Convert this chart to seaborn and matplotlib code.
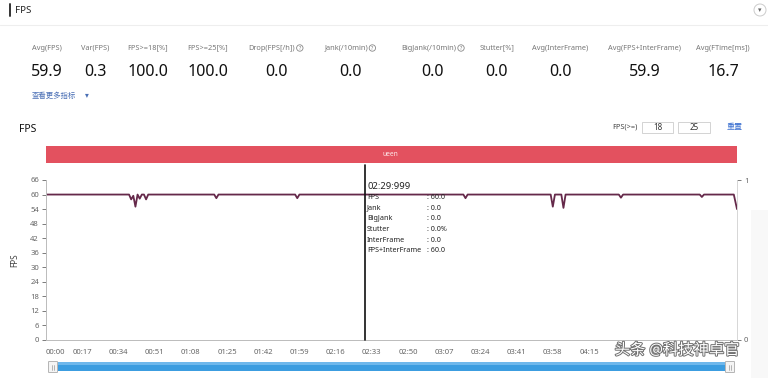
import matplotlib
matplotlib.use("Agg")
import matplotlib.pyplot as plt
import seaborn as sns
import pandas as pd
from matplotlib.patches import Rectangle, FancyBboxPatch, Circle
import matplotlib.patheffects as pe

# ---------------- data ----------------
stat_labels = ["Avg(FPS)", "Var(FPS)", "FPS>=18[%]", "FPS>=25[%]", "Drop(FPS[/h])",
               "Jank(/10min)", "BigJank(/10min)", "Stutter[%]", "Avg(InterFrame)",
               "Avg(FPS+InterFrame)", "Avg(FTime[ms])"]
stat_values = ["59.9", "0.3", "100.0", "100.0", "0.0", "0.0", "0.0", "0.0", "0.0", "59.9", "16.7"]
stat_help = [False, False, False, False, True, True, True, False, False, False, False]

time_s = [0, 39, 40, 41, 42, 43, 44, 45, 46, 47, 48, 79, 80, 81, 117, 118, 119,
          196, 197, 198, 237, 238, 239, 242, 243, 244, 269, 270, 271, 307, 308, 309,
          323, 324.5]
fps = [60, 60, 58, 59.5, 55, 60, 58.3, 60, 60, 58, 60, 60, 58.5, 60, 60, 58.5, 60,
       60, 58.5, 60, 60, 55, 60, 60, 54.5, 60, 60, 58.7, 60, 60, 59, 60,
       60, 54]

y_ticks = [0, 6, 12, 18, 24, 30, 36, 42, 48, 54, 60, 66]
x_tick_s = [0, 17, 34, 51, 68, 85, 102, 119, 136, 153, 170, 187, 204, 221, 238, 255, 272, 289, 306]
# the last three labels are hidden under the watermark in the reference
x_tick_labels = ["00:00", "00:17", "00:34", "00:51", "01:08", "01:25", "01:42", "01:59",
                 "02:16", "02:33", "02:50", "03:07", "03:24", "03:41", "03:58", "04:15",
                 "", "", ""]

cursor_s = 150
tooltip_title = "02:29:999"
tooltip_rows = [("FPS", "60.0"), ("Jank", "0.0"), ("BigJank", "0.0"),
                ("Stutter", "0.0%"), ("InterFrame", "0.0"), ("FPS+InterFrame", "60.0")]
fps_thresholds = ["18", "25"]
scene_label = "ueen"

# ---------------- style ----------------
sns.set_theme(style="white")
plt.rcParams['font.family'] = ['Noto Sans', 'Noto Sans CJK SC', 'DejaVu Sans']

W, H = 768, 378
fig = plt.figure(figsize=(W / 100, H / 100), dpi=100)
fig.patch.set_facecolor("white")

def fx(px):
    return px / W

def fy(py):
    return 1 - py / H

# main chart axes (pixel box 46..737 x 180..340)
ax_l, ax_r, ax_t, ax_b = 46, 737, 180, 340
ax = fig.add_axes([fx(ax_l), fy(ax_b), (ax_r - ax_l) / W, (ax_b - ax_t) / H])
df = pd.DataFrame({"t": time_s, "fps": fps})
line_color = "#65294a"
sns.lineplot(data=df, x="t", y="fps", ax=ax, color=line_color, linewidth=1.3)
ax.set_xlim(0, 324.5)
ax.set_ylim(0, 66)
ax.set_yticks(y_ticks)
ax.set_yticklabels([str(v) for v in y_ticks])
ax.set_xticks(x_tick_s)
ax.set_xticklabels(x_tick_labels)
ax.get_xticklabels()[0].set_horizontalalignment("left")
ax.set_xlabel("")
ax.set_ylabel("FPS", fontsize=6, color="#444444", labelpad=8)
ax.tick_params(axis="both", labelsize=5.5, colors="#666666", length=3, width=0.6,
               direction="out", pad=2)
ax.tick_params(axis="x", pad=5, direction="inout")
ax.spines["top"].set_visible(False)
for s in ["left", "bottom", "right"]:
    ax.spines[s].set_color("#bbbbbb")
    ax.spines[s].set_linewidth(0.7)
ax.set_facecolor("none")
ax.grid(False)

# cursor line (extends up to the scene band)
ax.plot([cursor_s, cursor_s], [0, 72.2], color="#111111", linewidth=1.2, clip_on=False, zorder=5)

# secondary (Jank) axis
ax2 = ax.twinx()
ax2.set_ylim(0, 1)
ax2.set_yticks([0, 1])
ax2.set_yticklabels(["0", "1"])
ax2.tick_params(axis="y", labelsize=5.5, colors="#666666", length=3, width=0.6, pad=2)
ax2.set_ylabel("Jank", fontsize=5.5, color="#444444", rotation=270, labelpad=14)
for s in ["top", "left", "bottom"]:
    ax2.spines[s].set_visible(False)
ax2.spines["right"].set_color("#dddddd")
ax2.spines["right"].set_linewidth(0.6)
ax2.grid(False)

# overlay axes in pixel coords for page decorations
ov = fig.add_axes([0, 0, 1, 1], zorder=10)
ov.set_xlim(0, W)
ov.set_ylim(H, 0)
ov.axis("off")
ov.patch.set_alpha(0)

# header
ov.plot([10, 10], [4, 16], color="#333333", linewidth=1.4)
ov.text(15, 10.5, "FPS", fontsize=7, color="#222222", va="center", ha="left", fontweight="medium")
ov.plot([0, W], [25, 25], color="#eeeeee", linewidth=0.8)
ov.add_patch(Circle((760, 10), 6, facecolor="white", edgecolor="#cccccc", linewidth=0.7))
ov.text(760, 10.5, "▾", fontsize=5, color="#666666", ha="center", va="center")

# stats row
stat_x = [47, 95, 148, 208, 276, 350, 433, 497, 560, 645, 723]
fig.canvas.draw()
renderer = fig.canvas.get_renderer()
for x, lab, val, hlp in zip(stat_x, stat_labels, stat_values, stat_help):
    if hlp:
        t = ov.text(x - 4, 48, lab, fontsize=5.3, color="#777777", ha="center", va="center")
        bb = t.get_window_extent(renderer=renderer)
        right_px = bb.x1
        ov.add_patch(Circle((right_px + 4.5, 48), 3.2, facecolor="white", edgecolor="#888888", linewidth=0.6))
        ov.text(right_px + 4.5, 48.3, "?", fontsize=3.8, color="#777777", ha="center", va="center")
    else:
        ov.text(x, 48, lab, fontsize=5.3, color="#777777", ha="center", va="center")
    ov.text(x, 72, val, fontsize=11.5, color="#111111", ha="center", va="center")

ov.text(32, 96.5, "查看更多指标", fontsize=5.3, color="#4a6fb5", ha="left", va="center")
ov.text(85, 96, "▾", fontsize=5.5, color="#4a6fb5", ha="left", va="center")

# chart header
ov.text(19, 129.5, "FPS", fontsize=7.5, color="#111111", ha="left", va="center", fontweight="bold")
ov.text(638, 127, "FPS(>=)", fontsize=5.3, color="#444444", ha="right", va="center")
for (x0, x1), lab in zip([(642, 673), (678, 710)], fps_thresholds):
    ov.add_patch(Rectangle((x0, 121.5), x1 - x0, 11, facecolor="white", edgecolor="#cccccc", linewidth=0.6))
    ov.text((x0 + x1) / 2, 127.3, lab, fontsize=5.8, color="#333333", ha="center", va="center")
ov.text(727, 127, "重置", fontsize=5.8, color="#3a6fd0", ha="left", va="center")

# scene band
ov.add_patch(Rectangle((46, 146), 691, 17, facecolor="#e3515f", edgecolor="none"))
ov.text(390, 154.5, scene_label, fontsize=4.8, color="#fde8ea", ha="center", va="center")

# tooltip text
ov.text(367, 186.5, tooltip_title, fontsize=6.8, color="#222222", ha="left", va="center")
for i, (k, v) in enumerate(tooltip_rows):
    yy = 197.5 + i * 10.7
    ov.text(367, yy, k, fontsize=5.2, color="#222222", ha="left", va="center")
    ov.text(427, yy, ": " + v, fontsize=5.2, color="#222222", ha="left", va="center")

# scrollbar
ov.add_patch(Rectangle((58, 362), 667, 9, facecolor="#3c9de0", edgecolor="none"))
ov.add_patch(Rectangle((58, 362), 667, 2.5, facecolor="#6fb8ec", edgecolor="none"))
for hx in (48, 725):
    ov.add_patch(FancyBboxPatch((hx + 1, 362), 8, 10, boxstyle="round,pad=0.5",
                                facecolor="#f4f4f4", edgecolor="#aaaaaa", linewidth=0.6))
    ov.plot([hx + 4, hx + 4], [364.5, 369.5], color="#999999", linewidth=0.5)
    ov.plot([hx + 6, hx + 6], [364.5, 369.5], color="#999999", linewidth=0.5)

# right page strip
ov.add_patch(Rectangle((751, 210), 17, 168, facecolor="#f8f8f8", edgecolor="none"))

# watermark
ov.text(677, 351, "头条 @科技神卓官", fontsize=11, color="white", ha="center", va="center",
        path_effects=[pe.withStroke(linewidth=1.4, foreground="#707070")])

fig.savefig("out.png", dpi=100)
